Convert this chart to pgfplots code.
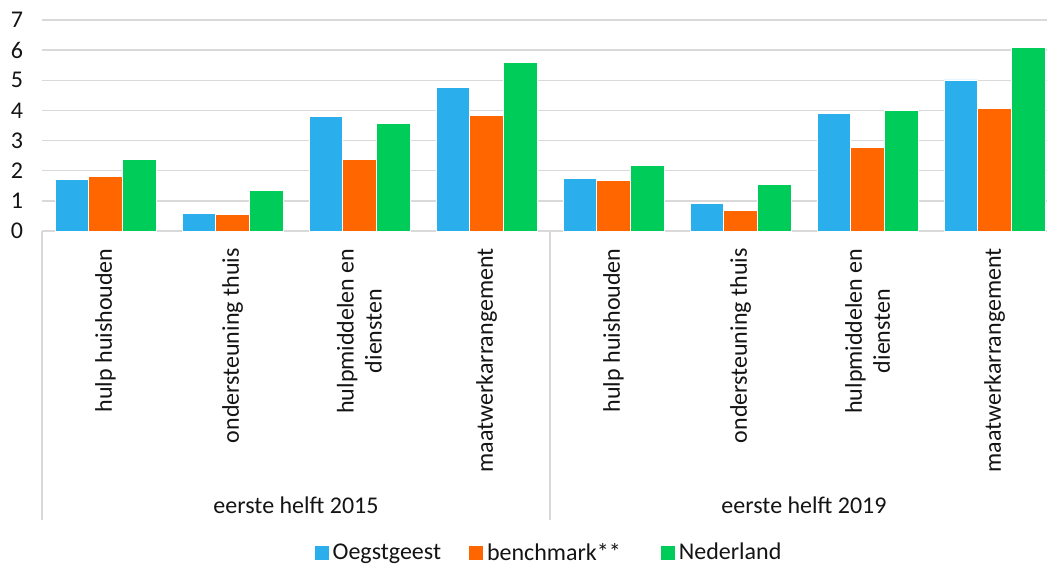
\documentclass[border=0pt]{standalone}
\usepackage{fontspec}
\setmainfont{Carlito}
\usepackage{pgfplots}
\pgfplotsset{compat=1.18}
\definecolor{cBlue}{RGB}{43,174,236}
\definecolor{cOrange}{RGB}{255,102,0}
\definecolor{cGreen}{RGB}{0,204,90}
\definecolor{cGrid}{RGB}{217,217,217}
\definecolor{cText}{RGB}{20,20,20}

\begin{document}
\begin{tikzpicture}
\path[use as bounding box] (0,0) rectangle (523.5pt,284pt);
\begin{axis}[
    at={(21pt,168.5pt)}, anchor=south west,
    scale only axis, width=508pt, height=105.5pt,
    clip=false,
    ybar=0pt, bar width=0.265,
    xmin=-0.5, xmax=7.5,
    ymin=0, ymax=7,
    ytick={0,...,7},
    xtick={0,...,7},
    xticklabels={hulp huishouden, ondersteuning thuis, {hulpmiddelen en\\diensten}, maatwerkarrangement,
                 hulp huishouden, ondersteuning thuis, {hulpmiddelen en\\diensten}, maatwerkarrangement},
    xticklabel style={rotate=90, anchor=east, align=center, inner xsep=8.5pt,
                      font=\fontsize{12}{14}\selectfont, text=cText},
    yticklabel style={xshift=-6pt, font=\fontsize{12}{14}\selectfont, text=cText},
    /pgf/number format/assume math mode=true,
    ymajorgrids, grid style={cGrid, line width=0.75pt},
    axis x line*=bottom, axis y line*=left,
    x axis line style={cGrid, line width=0.75pt},
    y axis line style={draw=none},
    major tick length=0pt,
    legend columns=3,
    legend style={at={(0.5,-1.526)}, anchor=center, draw=none,
                  font=\fontsize{12}{14}\selectfont, text=cText},
    legend image code/.code={\fill[#1,draw=none] (0pt,-3.5pt) rectangle (7pt,3.5pt);},
]
\addplot[fill=cBlue, draw=white, line width=0.4pt] coordinates {
    (0,1.71) (1,0.59) (2,3.80) (3,4.77) (4,1.73) (5,0.91) (6,3.89) (7,5.01)};
\addplot[fill=cOrange, draw=white, line width=0.4pt] coordinates {
    (0,1.82) (1,0.55) (2,2.37) (3,3.83) (4,1.67) (5,0.68) (6,2.78) (7,4.06)};
\addplot[fill=cGreen, draw=white, line width=0.4pt] coordinates {
    (0,2.36) (1,1.36) (2,3.57) (3,5.58) (4,2.17) (5,1.55) (6,4.01) (7,6.09)};
\legend{Oegstgeest\rule{12pt}{0pt}, benchmark**\rule{18pt}{0pt}, Nederland}

% category group separators and labels
\draw[cGrid, line width=0.75pt] (axis cs:-0.5,0) -- ([yshift=-144.5pt]axis cs:-0.5,0);
\draw[cGrid, line width=0.75pt] (axis cs:3.5,0) -- ([yshift=-144.5pt]axis cs:3.5,0);
\draw[cGrid, line width=0.75pt] (axis cs:7.5,0) -- ([yshift=-144.5pt]axis cs:7.5,0);
\node[font=\fontsize{12}{14}\selectfont, text=cText] at (axis cs:1.5,0) [yshift=-137pt] {eerste helft 2015};
\node[font=\fontsize{12}{14}\selectfont, text=cText] at (axis cs:5.5,0) [yshift=-137pt] {eerste helft 2019};
\end{axis}
\end{tikzpicture}
\end{document}
